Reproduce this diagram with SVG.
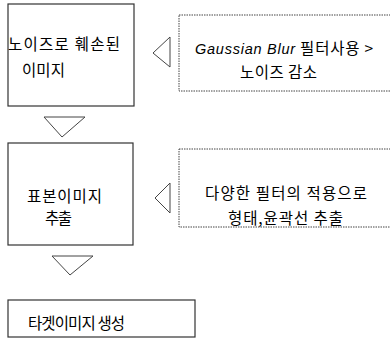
<svg xmlns="http://www.w3.org/2000/svg" width="390" height="339" viewBox="0 0 390 339">
<style>
.box{fill:#fff;stroke:#333;stroke-width:1.2}
.dbox{fill:#fff;stroke:#444;stroke-width:1;stroke-dasharray:1.5 1}
.arr{fill:none;stroke:#444;stroke-width:1}
text{font-family:"Noto Sans CJK KR","Liberation Sans",sans-serif;font-size:15.5px;fill:#000}
.lat{font-family:"Liberation Sans","Noto Sans CJK KR",sans-serif;font-style:italic;font-size:14.5px}
</style>
<rect width="390" height="339" fill="#fff"/>
<g id="connectors">
<polygon class="arr" points="153,53 170,37 170,67"/>
<polygon class="arr" points="155,198 170,183 170,213"/>
<polygon class="arr" points="44,117 85,117 62,137"/>
<polygon class="arr" points="52,256 93,256 70,275"/>
</g>
<g id="node1">
<rect class="box" x="8" y="4" width="126" height="102"/>
<text x="8" y="50" textLength="112" lengthAdjust="spacing">노이즈로 훼손된</text>
<text x="22" y="76" textLength="43" lengthAdjust="spacing">이미지</text>
</g>
<g id="node2">
<rect class="dbox" x="179" y="15" width="220" height="76"/>
<text x="195" y="54" textLength="178" lengthAdjust="spacing"><tspan class="lat">Gaussian Blur</tspan> 필터사용 &gt;</text>
<text x="240" y="78" textLength="77" lengthAdjust="spacing">노이즈 감소</text>
</g>
<g id="node3">
<rect class="box" x="8" y="143" width="125" height="102"/>
<text x="27" y="202" textLength="75" lengthAdjust="spacing">표본이미지</text>
<text x="45" y="224" textLength="27" lengthAdjust="spacing">추출</text>
</g>
<g id="node4">
<rect class="dbox" x="179" y="149" width="220" height="78"/>
<text x="205" y="199" textLength="162" lengthAdjust="spacing">다양한 필터의 적용으로</text>
<text x="228" y="224" textLength="115" lengthAdjust="spacing">형태,윤곽선 추출</text>
</g>
<g id="node5">
<rect class="box" x="8" y="300" width="187" height="37"/>
<text x="28" y="329" textLength="97" lengthAdjust="spacing">타겟이미지 생성</text>
</g>
</svg>
